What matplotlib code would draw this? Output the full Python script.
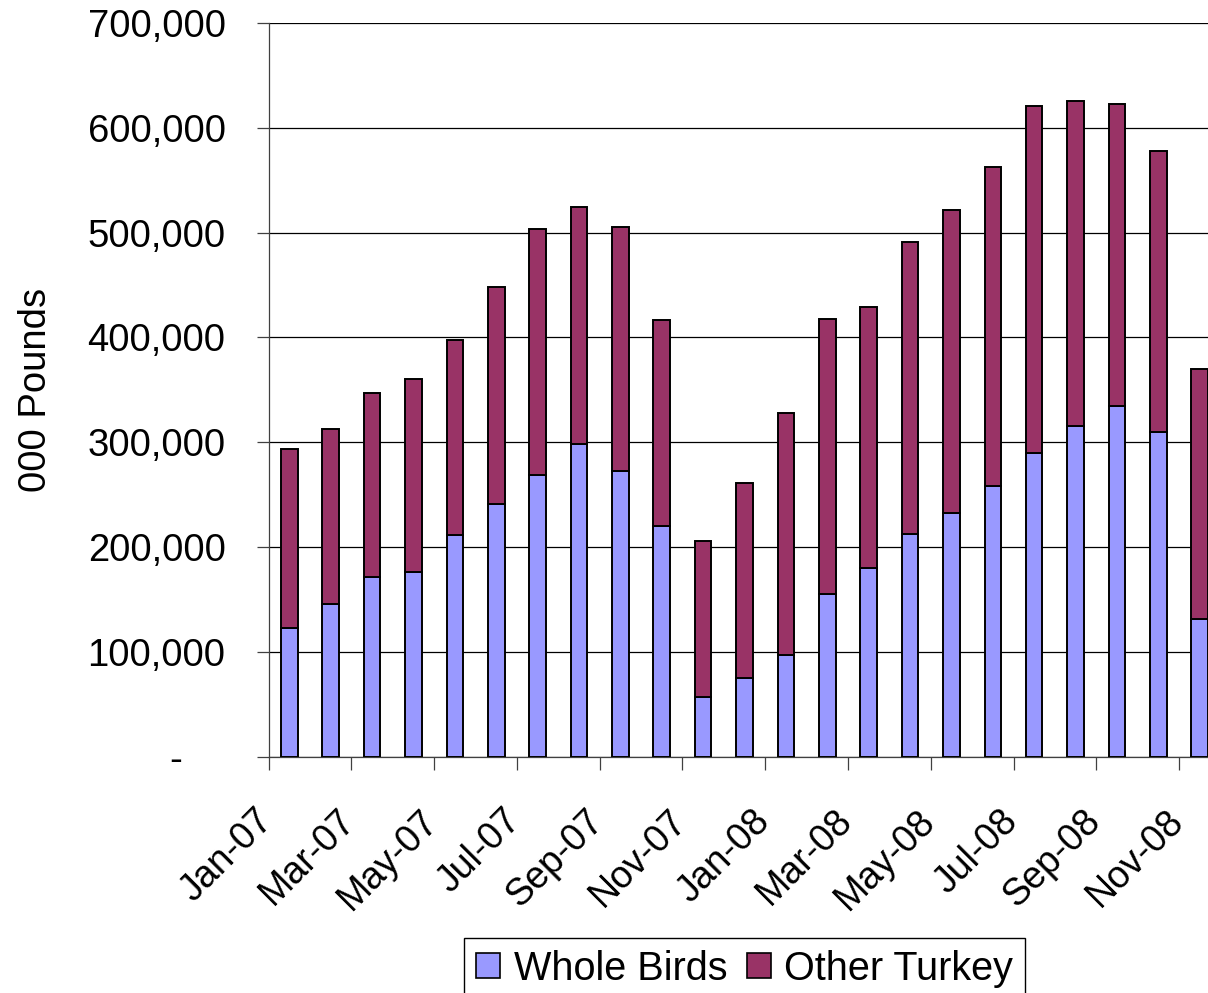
import matplotlib
matplotlib.use("Agg")
import matplotlib.pyplot as plt
from matplotlib.ticker import FuncFormatter, FixedLocator
from matplotlib.patches import Patch
from matplotlib.transforms import ScaledTranslation

plt.rcParams['font.family'] = ['Liberation Sans', 'DejaVu Sans']

# Monthly turkey cold storage, 000 pounds
months = ['Jan-07', 'Feb-07', 'Mar-07', 'Apr-07', 'May-07', 'Jun-07', 'Jul-07',
          'Aug-07', 'Sep-07', 'Oct-07', 'Nov-07', 'Dec-07', 'Jan-08', 'Feb-08',
          'Mar-08', 'Apr-08', 'May-08', 'Jun-08', 'Jul-08', 'Aug-08', 'Sep-08',
          'Oct-08', 'Nov-08']
whole_birds = [122700, 145300, 171100, 176100, 211500, 241300, 268700, 298300,
               272500, 220300, 56900, 75000, 97000, 155400, 180300, 212700,
               232100, 258200, 289700, 315500, 334800, 310000, 131000]
other_turkey = [170500, 167600, 175600, 183900, 186000, 207100, 235000, 226400,
                232500, 196600, 149100, 186400, 230900, 261900, 248400, 278300,
                289800, 304100, 331400, 310400, 287600, 267900, 239100]

c_whole = '#9999FF'
c_other = '#993366'

fig = plt.figure(figsize=(12.08, 9.93), dpi=100)
ax = fig.add_axes([0.2224, 0.238, 0.7776, 0.7388])

x = list(range(len(months)))
ax.bar(x, whole_birds, width=0.4, color=c_whole, edgecolor='black',
       linewidth=1.4, zorder=3)
ax.bar(x, other_turkey, width=0.4, bottom=whole_birds, color=c_other,
       edgecolor='black', linewidth=1.4, zorder=3)

ax.set_xlim(-0.5, 22.2)
ax.set_ylim(0, 700000)

# y axis: gridlines every 100,000, zero shown as a dash
ax.set_yticks(range(0, 700001, 100000))
ax.yaxis.set_major_formatter(FuncFormatter(
    lambda v, p: '-    ' if v == 0 else f'{int(v):,}'))
ax.yaxis.grid(True, color='black', linewidth=0.9, zorder=0)
ax.set_axisbelow(True)

# x axis: ticks at month boundaries, labelled every second month
tick_pos = [i - 0.5 for i in range(0, len(months), 2)]
ax.xaxis.set_major_locator(FixedLocator(tick_pos))
ax.set_xticklabels(months[::2], rotation=45, ha='right',
                   rotation_mode='anchor')

ax.tick_params(axis='both', direction='out', length=9, width=0.9,
               color='#404040', labelsize=27.5)
ax.tick_params(axis='y', pad=22)
ax.tick_params(axis='x', pad=22, labelsize=27)

shift = ScaledTranslation(-0.14, -0.03, fig.dpi_scale_trans)
for lbl in ax.get_xticklabels():
    lbl.set_transform(lbl.get_transform() + shift)

for s in ['top', 'right']:
    ax.spines[s].set_visible(False)
for s in ['left', 'bottom']:
    ax.spines[s].set_color('#404040')
    ax.spines[s].set_linewidth(0.9)

ax.set_ylabel('000 Pounds', fontsize=27.5)
ax.yaxis.set_label_coords(-0.229, 0.5)

handles = [Patch(facecolor=c_whole, edgecolor='black', linewidth=1.2),
           Patch(facecolor=c_other, edgecolor='black', linewidth=1.2)]
leg = fig.legend(handles, ['Whole Birds', 'Other Turkey'], ncol=2,
                 loc='upper center', bbox_to_anchor=(0.6165, 0.0555),
                 fontsize=28.5, frameon=True, fancybox=False, shadow=False,
                 edgecolor='black', framealpha=1, borderpad=0.3,
                 handlelength=0.6, handleheight=0.6, handletextpad=0.35,
                 columnspacing=0.5, borderaxespad=0)
leg.get_frame().set_linewidth(1.0)

fig.savefig('out.png', dpi=100)
